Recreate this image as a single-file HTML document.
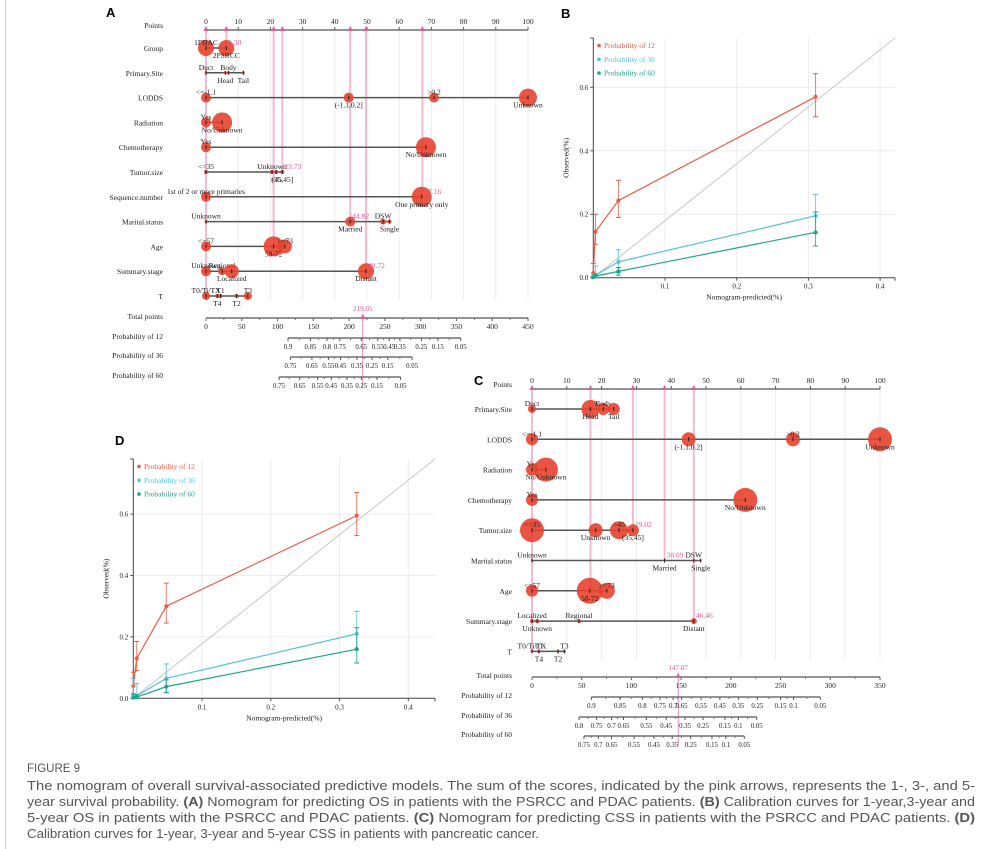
<!DOCTYPE html>
<html><head><meta charset="utf-8"><style>
html,body{margin:0;padding:0;background:#fff;}
svg{display:block;}
</style></head><body>
<svg id="fig" width="994" height="849" viewBox="0 0 994 849" xmlns="http://www.w3.org/2000/svg" font-family="'Liberation Serif', serif">
<line x1="5.5" y1="0" x2="5.5" y2="849" stroke="#d0d0d0" stroke-width="1"/>
<g id="gA"></g>
<g id="gB"></g>
<g id="gC"></g>
<g id="gD"></g>
<g font-family="'Liberation Sans', sans-serif" fill="#555">
<text x="27" y="772" font-size="11.5">FIGURE 9</text>
<text x="27" y="790" font-size="13.3" textLength="948" lengthAdjust="spacingAndGlyphs">The nomogram of overall survival-associated predictive models. The sum of the scores, indicated by the pink arrows, represents the 1-, 3-, and 5-</text>
<text x="27" y="806" font-size="13.3" textLength="948" lengthAdjust="spacingAndGlyphs">year survival probability. <tspan font-weight="bold">(A)</tspan> Nomogram for predicting OS in patients with  the PSRCC and PDAC patients. <tspan font-weight="bold">(B)</tspan> Calibration curves for 1-year,3-year and</text>
<text x="27" y="822" font-size="13.3" textLength="948" lengthAdjust="spacingAndGlyphs">5-year OS in patients with the PSRCC and PDAC patients. <tspan font-weight="bold">(C)</tspan> Nomogram for predicting CSS in patients with the PSRCC and PDAC patients. <tspan font-weight="bold">(D)</tspan></text>
<text x="27" y="838" font-size="13.3" textLength="512" lengthAdjust="spacingAndGlyphs">Calibration curves for 1-year, 3-year and 5-year  CSS in patients with pancreatic cancer.</text>
</g>
</svg>
<script>
// ---------- Panel A data ----------
const aRowNames = ["Group","Primary.Site","LODDS","Radiation","Chemotherapy","Tumor.size","Sequence.number","Marital.status","Age","Summary.stage","T"];
const aRowLevels = [
 [["1PDAC",0,"a",8],["2PSRCC",6.3,"b",8]],
 [["Duct",0,"a",1.5],["Body",7,"a",1.5],["Head",6,"b",1.5],["Tail",11.6,"b",1.5]],
 [["<=-1.1",0,"a",5],["(-1.1,0.2]",44.3,"b",5],[">0.2",70.8,"a",5],["Unknown",100,"b",9]],
 [["Yes",0,"a",5],["No/Unknown",5,"b",10]],
 [["Yes",0,"a",5],["No/Unknown",68.3,"b",10]],
 [["<=35",0,"a",2],["Unknown",20.5,"a",2],[">45",21.8,"b",2],["(35,45]",23.7,"b",2]],
 [["1st of 2 or more primaries",0,"a",5],["One primary only",67,"b",10]],
 [["Unknown",0,"a",1.5],["Married",44.8,"b",5],["DSW",55,"a",3],["Single",57,"b",2]],
 [["<=57",0,"a",5],["58-72",21,"b",10],[">=73",24.5,"a",7]],
 [["Unknown",0,"a",5],["Regional",5,"a",4],["Localized",8,"b",7],["Distant",49.7,"b",8]],
 [["T0/Ti/TX",0,"a",4],["T1",4.5,"a",2],["T4",3.5,"b",2],["T2",9.5,"b",2],["T3",13,"a",4]]
];
const aSelectedValues = ["6.30","","","","","23.73","67.16","44.82","","49.72",""];
const aSelectedPoints = [6.3,null,null,null,null,23.7,67.2,44.8,21,49.7,0];
const aArrowPoints = [0,6.3,21,23.7,44.8,49.7,67.2];
const aTotalTicks = [0,50,100,150,200,250,300,350,400,450];
const aTotalSelected = 219.05;
const aProbNames = ["Probability of 12","Probability of 36","Probability of 60"];
const aProbLabels = [
 ["0.9","0.85","0.8","0.75","0.65","0.55","0.45","0.35","0.25","0.15","0.05"],
 ["0.75","0.65","0.55","0.45","0.35","0.25","0.15","0.05"],
 ["0.75","0.65","0.55","0.45","0.35","0.25","0.15","0.05"]];
const aProbAt = [
 [114.6,146,169,187,217,240,256,271,301,324,356],
 [118,148,171,188,211,232,254,288],
 [102,131,156,175,197,217,239,272]];

// ---------- Panel C data ----------
const cRowNames = ["Primary.Site","LODDS","Radiation","Chemotherapy","Tumor.size","Marital.status","Age","Summary.stage","T"];
const cRowLevels = [
 [["Duct",0,"a",4],["Head",16.8,"b",9],["Body",20.5,"a",6],["Tail",23.5,"b",6]],
 [["<=-1.1",0,"a",6],["(-1.1,0.2]",45,"b",7],[">0.2",75,"a",7],["Unknown",100,"b",12]],
 [["Yes",0,"a",6],["No/Unknown",4,"b",12]],
 [["Yes",0,"a",6],["No/Unknown",61.3,"b",12]],
 [["<=35",0,"a",12],["Unknown",18.3,"b",7],[">45",25,"a",9],["(35,45]",29,"b",6]],
 [["Unknown",0,"a",1],["Married",38.1,"b",1],["DSW",46.5,"a",1],["Single",48.5,"b",1]],
 [["<=57",0,"a",6],["58-72",16.6,"b",13],[">=73",21.5,"a",8]],
 [["Localized",0,"a",2],["Unknown",1.5,"b",2],["Regional",13.5,"a",2],["Distant",46.5,"b",3]],
 [["T0/Ti/TX",0,"a",1.5],["T1",2,"a",1.5],["T4",2,"b",1.5],["T2",7.5,"b",1.5],["T3",9.3,"a",1.5]]
];
const cSelectedValues = ["","","","","29.02","38.09","","46.46",""];
const cSelectedPoints = [16.8,null,null,null,29,38.1,16.6,46.5,0];
const cArrowPoints = [0,16.8,29,38.1,46.5];
const cTotalTicks = [0,50,100,150,200,250,300,350];
const cTotalSelected = 147.07;
const cProbNames = ["Probability of 12","Probability of 36","Probability of 60"];
const cProbLabels = [
 ["0.9","0.85","0.8","0.75","0.7","0.65","0.55","0.45","0.35","0.25","0.15","0.1","0.05"],
 ["0.8","0.75","0.7","0.65","0.55","0.45","0.35","0.25","0.15","0.1","0.05"],
 ["0.75","0.7","0.65","0.55","0.45","0.35","0.25","0.15","0.1","0.05"]];
const cProbAt = [
 [59.7,88.5,111,128.7,142,150.5,170,189,207.5,226.6,250,263,290],
 [47.3,65,80,92,115,135,154,172,194,207.5,226],
 [52.3,66.7,80,102.6,122.7,141,159.6,181,195,213.5]];

// ---------- Calibration data ----------
const calSeries = ["Probability of 12","Probability of 36","Probability of 60"];
const bPredicted = [[0.0,0.003,0.035,0.31],[0.0,0.003,0.035,0.31],[0.0,0.003,0.035,0.31]];
const bObserved = [[0.015,0.145,0.243,0.57],[0.003,0.008,0.05,0.195],[0.001,0.005,0.02,0.143]];
const bLow = [[0.0,0.105,0.19,0.507],[0.0,0.0,0.015,0.14],[0.0,0.0,0.008,0.1]];
const bHigh = [[0.045,0.2,0.307,0.643],[0.012,0.037,0.088,0.262],[0.005,0.012,0.032,0.207]];
const dPredicted = [[0.0,0.005,0.048,0.325],[0.0,0.005,0.048,0.325],[0.0,0.005,0.048,0.325]];
const dObserved = [[0.04,0.13,0.3,0.595],[0.01,0.008,0.065,0.21],[0.002,0.004,0.038,0.16]];
const dLow = [[0.0,0.09,0.245,0.53],[0.0,0.0,0.02,0.16],[0.0,0.0,0.018,0.115]];
const dHigh = [[0.085,0.185,0.375,0.67],[0.065,0.048,0.112,0.283],[0.015,0.012,0.06,0.23]];
const calXTicks = [0.1,0.2,0.3,0.4];
const calYTicks = [0.0,0.2,0.4,0.6];

const NS="http://www.w3.org/2000/svg";
function mk(parent,tag,attrs,text){const e=document.createElementNS(NS,tag);for(const k in attrs)e.setAttribute(k,attrs[k]);if(text!==undefined)e.textContent=text;parent.appendChild(e);return e;}
const PINK="#e8559a", PINKL="#f7b9d2", RED="#e8412e";

function nomogram(g,cfg){
  const px=p=>cfg.x0+(cfg.x1-cfg.x0)*p/100;
  const tx=t=>cfg.x0+(cfg.x1-cfg.x0)*t/cfg.totMax;
  // panel letter
  let e=mk(g,"text",{x:cfg.letterX,y:cfg.letterY,"font-family":"'Liberation Sans',sans-serif","font-weight":"bold","font-size":13},cfg.letter);
  
  
  // vertical grid
  for(let p=0;p<=100;p+=10){
    e=mk(g,"line",{x1:px(p),x2:px(p),y1:cfg.ptsY,y2:cfg.gridBottom,stroke:"#ececec","stroke-width":1});
    
    
  }
  // points axis
  e=mk(g,"line",{x1:px(0),x2:px(100),y1:cfg.ptsY,y2:cfg.ptsY,stroke:"#555","stroke-width":1.2});
  
  
  e=mk(g,"text",{x:cfg.labelX,y:cfg.ptsY-2,"text-anchor":"end","font-size":7.5,fill:"#222"},"Points");
  
  
  for(let p=0;p<=100;p+=10){
    mk(g,"line",{x1:px(p),x2:px(p),y1:cfg.ptsY,y2:cfg.ptsY-3,stroke:"#555"});
    if(p%10===0){e=mk(g,"text",{x:px(p),y:cfg.ptsY-6,"text-anchor":"middle","font-size":7.5,fill:"#222"},String(p));
    
    }
  }
  // pink arrows
  cfg.arrows.forEach(p=>{
    e=mk(g,"line",{x1:px(p),x2:px(p),y1:cfg.ptsY,y2:cfg.arrowBottom[cfg.arrows.indexOf(p)],stroke:PINKL,"stroke-width":2});
    
    
    mk(g,"path",{d:`M${px(p)-2.5},${cfg.ptsY+1}L${px(p)+2.5},${cfg.ptsY+1}L${px(p)},${cfg.ptsY-4}Z`,fill:PINK});
  });
  // rows
  cfg.names.forEach((nm,i)=>{
    const y=cfg.rowY0+i*cfg.rowStep;
    const rg=mk(g,"g",{});
    
    
    e=mk(rg,"text",{x:cfg.labelX,y:y+3,"text-anchor":"end","font-size":7.5,fill:"#222"},nm);
    
    
    const lv=cfg.levels[i];
    const maxP=Math.max(...lv.map(l=>l[1]));
    e=mk(rg,"line",{x1:px(0),x2:px(maxP),y1:y,y2:y,stroke:"#555","stroke-width":1.5});
    
    
    lv.forEach(l=>{
      e=mk(rg,"circle",{cx:px(l[1]),cy:y,r:l[3],fill:RED,"fill-opacity":0.9});
      
      
      mk(rg,"line",{x1:px(l[1]),x2:px(l[1]),y1:y-2,y2:y+2,stroke:"#222"});
      e=mk(rg,"text",{x:px(l[1]),y:l[2]==="a"?y-3:y+10,"text-anchor":l[1]===0&&l[0].length>10?"middle":"middle","font-size":7.5,fill:"#222"},l[0]);
      
      
    });
    if(cfg.selVals[i]){
      e=mk(rg,"text",{x:px(cfg.selPts[i])+2,y:y-3,"font-size":7.5,fill:PINK},cfg.selVals[i]);
      
      
    }
  });
  // total points
  const ty=cfg.totY;
  e=mk(g,"text",{x:cfg.labelX,y:ty+1,"text-anchor":"end","font-size":7.5,fill:"#222"},"Total points");
  
  
  e=mk(g,"line",{x1:tx(0),x2:tx(cfg.totMax),y1:ty,y2:ty,stroke:"#555","stroke-width":1.2});
  
  
  cfg.totTicks.forEach(t=>{
    mk(g,"line",{x1:tx(t),x2:tx(t),y1:ty,y2:ty+3,stroke:"#555"});
    e=mk(g,"text",{x:tx(t),y:ty+11,"text-anchor":"middle","font-size":7.5,fill:"#222"},String(t));
    
    
  });
  for(let t=0;t<cfg.totMax;t+=cfg.totTicks[1]/2)mk(g,"line",{x1:tx(t),x2:tx(t),y1:ty,y2:ty+2,stroke:"#777"});
  const sx=tx(cfg.totSel);
  e=mk(g,"line",{x1:sx,x2:sx,y1:ty-4,y2:cfg.probY[2]+10,stroke:PINK,"stroke-width":1,"stroke-opacity":0.7});
  
  
  e=mk(g,"text",{x:sx,y:ty-7,"text-anchor":"middle","font-size":7,fill:PINK},cfg.totSel.toFixed(2));
  
  
  mk(g,"path",{d:`M${sx-2.5},${ty+1}L${sx+2.5},${ty+1}L${sx},${ty-4}Z`,fill:PINK});
  // probability axes
  cfg.probNames.forEach((pn,i)=>{
    const y=cfg.probY[i], at=cfg.probAt[i], lb=cfg.probLabels[i];
    const pg=mk(g,"g",{});
    
    
    e=mk(pg,"text",{x:cfg.probLabelX,y:y+1,"text-anchor":"end","font-size":7.5,fill:"#222"},pn);
    
    
    mk(pg,"line",{x1:tx(at[0]),x2:tx(at[at.length-1]),y1:y,y2:y,stroke:"#555","stroke-width":1.2});
    at.forEach((t,j)=>{
      mk(pg,"line",{x1:tx(t),x2:tx(t),y1:y,y2:y+3,stroke:"#555"});
      if(j<at.length-1)mk(pg,"line",{x1:tx((t+at[j+1])/2),x2:tx((t+at[j+1])/2),y1:y,y2:y+2,stroke:"#777"});
      e=mk(pg,"text",{x:tx(t),y:y+11,"text-anchor":"middle","font-size":6.8,fill:"#222"},lb[j]);
      
      
    });
  });
}

nomogram(document.getElementById("gA"),{letter:"A",letterX:106,letterY:17,x0:206,x1:528,labelX:163,ptsY:30,gridBottom:300,
  rowY0:48,rowStep:24.8,names:aRowNames,levels:aRowLevels,selVals:aSelectedValues,selPts:aSelectedPoints,
  arrows:aArrowPoints,arrowBottom:[296,48,246,172,221,271,197],
  totY:318,totMax:450,totTicks:aTotalTicks,totSel:aTotalSelected,
  probNames:aProbNames,probY:[338,357,377],probAt:aProbAt,probLabels:aProbLabels,probLabelX:163});
nomogram(document.getElementById("gC"),{letter:"C",letterX:474,letterY:385,x0:532,x1:880,labelX:512,ptsY:389,gridBottom:660,
  rowY0:409,rowStep:30.3,names:cRowNames,levels:cRowLevels,selVals:cSelectedValues,selPts:cSelectedPoints,
  arrows:cArrowPoints,arrowBottom:[652,591,531,561,622],
  totY:677,totMax:350,totTicks:cTotalTicks,totSel:cTotalSelected,
  probNames:cProbNames,probY:[697,717,736],probAt:cProbAt,probLabels:cProbLabels,probLabelX:512});

const COLS=["#ee5a45","#56c2d9","#1ea58a"];
function calib(g,cfg){
  const X=v=>cfg.ox+v*cfg.kx, Y=v=>cfg.oy-v*cfg.ky;
  let e=mk(g,"text",{x:cfg.letterX,y:cfg.letterY,"font-family":"'Liberation Sans',sans-serif","font-weight":"bold","font-size":13},cfg.letter);
  
  
  calXTicks.forEach(t=>{
    e=mk(g,"line",{x1:X(t),x2:X(t),y1:cfg.top,y2:cfg.oy,stroke:"#ececec"});
    
    
    mk(g,"line",{x1:X(t),x2:X(t),y1:cfg.oy,y2:cfg.oy+3,stroke:"#555"});
    e=mk(g,"text",{x:X(t),y:cfg.oy+11,"text-anchor":"middle","font-size":7,fill:"#222"},String(t));
    
    
  });
  calYTicks.forEach(t=>{
    if(t>0){e=mk(g,"line",{x1:cfg.ox,x2:cfg.right,y1:Y(t),y2:Y(t),stroke:"#ececec"});
    
    }
    mk(g,"line",{x1:cfg.ox-3,x2:cfg.ox,y1:Y(t),y2:Y(t),stroke:"#555"});
    e=mk(g,"text",{x:cfg.ox-5,y:Y(t)+2.5,"text-anchor":"end","font-size":7,fill:"#222"},t.toFixed(1));
    
    
  });
  e=mk(g,"line",{x1:cfg.ox,x2:cfg.right,y1:cfg.oy,y2:cfg.oy,stroke:"#444","stroke-width":1});
  
  
  mk(g,"line",{x1:cfg.right,x2:cfg.right,y1:cfg.oy,y2:cfg.oy+3,stroke:"#444"});
  e=mk(g,"line",{x1:cfg.ox,x2:cfg.ox,y1:cfg.top,y2:cfg.oy,stroke:"#444","stroke-width":1});
  
  
  mk(g,"line",{x1:cfg.ox-3,x2:cfg.ox,y1:cfg.top,y2:cfg.top,stroke:"#444"});
  e=mk(g,"line",{x1:cfg.ox,y1:cfg.oy,x2:cfg.right,y2:cfg.top,stroke:"#c8c8c8","stroke-width":1});
  
  
  e=mk(g,"text",{x:(cfg.ox+cfg.right)/2,y:cfg.oy+22,"text-anchor":"middle","font-size":7.5,fill:"#222"},"Nomogram-predicted(%)");
  
  
  const yl=cfg.ox-25, ym=(cfg.top+cfg.oy)/2;
  e=mk(g,"text",{x:yl,y:ym,"text-anchor":"middle","font-size":7.5,fill:"#222",transform:`rotate(-90 ${yl} ${ym})`},"Observed(%)");
  
  
  calSeries.forEach((s,i)=>{
    const sg=mk(g,"g",{});
    
    
    const pr=cfg.pred[i], ob=cfg.obs[i];
    e=mk(sg,"polyline",{points:pr.map((p,j)=>X(p)+","+Y(ob[j])).join(" "),fill:"none",stroke:COLS[i],"stroke-width":1.2});
    
    
    pr.forEach((p,j)=>{
      const x=X(p);
      e=mk(sg,"line",{x1:x,x2:x,y1:Y(cfg.lo[i][j]),y2:Y(cfg.hi[i][j]),stroke:COLS[i],"stroke-width":1,"stroke-opacity":0.8});
      
      
      mk(sg,"line",{x1:x-2.5,x2:x+2.5,y1:Y(cfg.lo[i][j]),y2:Y(cfg.lo[i][j]),stroke:COLS[i]});
      mk(sg,"line",{x1:x-2.5,x2:x+2.5,y1:Y(cfg.hi[i][j]),y2:Y(cfg.hi[i][j]),stroke:COLS[i]});
      e=mk(sg,"circle",{cx:x,cy:Y(ob[j]),r:2,fill:COLS[i]});
      
      
    });
    const ly=cfg.legY+i*13.8;
    e=mk(sg,"circle",{cx:cfg.legX,cy:ly-2.5,r:1.8,fill:COLS[i]});
    
    
    e=mk(sg,"text",{x:cfg.legX+5,y:ly,"font-size":7.5,fill:COLS[i]},s);
    
    
  });
}
calib(document.getElementById("gB"),{letter:"B",letterX:561,letterY:18,ox:593.3,oy:277.7,kx:717,ky:317.3,top:38,right:895,
  pred:bPredicted,obs:bObserved,lo:bLow,hi:bHigh,legX:599,legY:48});
calib(document.getElementById("gD"),{letter:"D",letterX:115,letterY:445,ox:133.3,oy:698.3,kx:687.5,ky:307,top:459,right:435,
  pred:dPredicted,obs:dObserved,lo:dLow,hi:dHigh,legX:139,legY:469});
</script>
</body></html>
